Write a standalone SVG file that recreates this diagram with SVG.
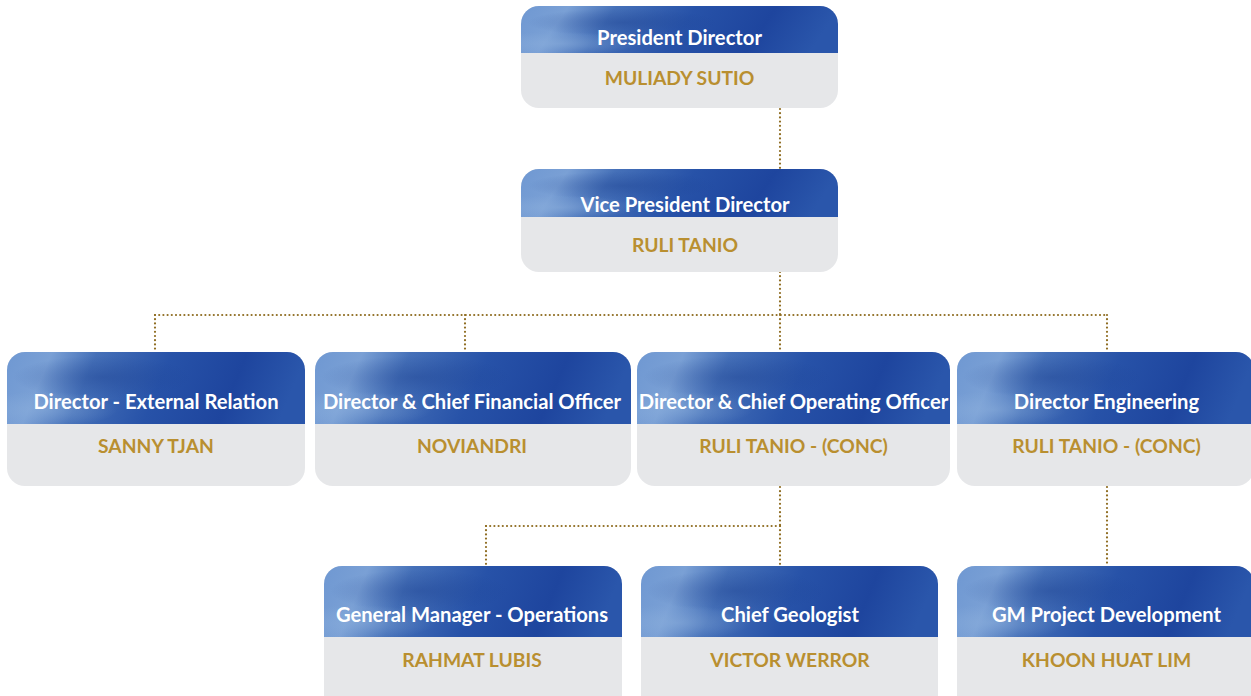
<svg xmlns="http://www.w3.org/2000/svg" width="1251" height="696" viewBox="0 0 1251 696">
<defs>
<linearGradient id="hg" x1="0" y1="0" x2="1" y2="0.1">
<stop offset="0" stop-color="#6f98d2"/>
<stop offset="0.15" stop-color="#7aa0d5"/>
<stop offset="0.3" stop-color="#4570b8"/>
<stop offset="0.55" stop-color="#2752a8"/>
<stop offset="0.8" stop-color="#1e459e"/>
<stop offset="1" stop-color="#2a56ab"/>
</linearGradient>
<radialGradient id="blob" cx="0.32" cy="0.35" r="0.3">
<stop offset="0" stop-color="#1b3f8f" stop-opacity="0.4"/>
<stop offset="1" stop-color="#1b3f8f" stop-opacity="0"/>
</radialGradient>
<radialGradient id="light" cx="0.12" cy="0.8" r="0.25">
<stop offset="0" stop-color="#8fb2de" stop-opacity="0.5"/>
<stop offset="1" stop-color="#8fb2de" stop-opacity="0"/>
</radialGradient>
</defs>
<style>
.body{fill:#e6e7e9}
.hdr{fill:url(#hg)}
.blob{fill:url(#blob)}
.lt{fill:url(#light)}
.t{font-family:Lato,"Open Sans","Liberation Sans",sans-serif;font-weight:700;font-size:20.2px;fill:#ffffff;text-anchor:middle}
.n{font-family:Lato,"Open Sans","Liberation Sans",sans-serif;font-weight:700;font-size:19.3px;fill:#b98f30;text-anchor:middle}
.c{fill:none;stroke:#8f6d22;stroke-width:2.2;stroke-dasharray:0 4.2;stroke-linecap:round}
</style>
<g id="connectors">
<path class="c" d="M780,109 V169"/>
<path class="c" d="M780,272 V315"/>
<path class="c" d="M155,315 H1107"/>
<path class="c" d="M155,315 V352"/>
<path class="c" d="M465,315 V352"/>
<path class="c" d="M780,315 V352"/>
<path class="c" d="M1107,315 V352"/>
<path class="c" d="M780,487 V526"/>
<path class="c" d="M486,526 H780"/>
<path class="c" d="M486,526 V566"/>
<path class="c" d="M780,526 V566"/>
<path class="c" d="M1107,487 V566"/>
</g>
<g id="n-president">
<rect class="body" x="521" y="6" width="317" height="102" rx="18"/>
<path class="hdr" d="M521,53 V24 A18,18 0 0 1 539,6 H820 A18,18 0 0 1 838,24 V53 Z"/>
<path class="blob" d="M521,53 V24 A18,18 0 0 1 539,6 H820 A18,18 0 0 1 838,24 V53 Z"/>
<path class="lt" d="M521,53 V24 A18,18 0 0 1 539,6 H820 A18,18 0 0 1 838,24 V53 Z"/>
<text class="t" x="679.5" y="45">President Director</text>
<text class="n" x="679.5" y="85">MULIADY SUTIO</text>
</g>
<g id="n-vp">
<rect class="body" x="521" y="169" width="317" height="103" rx="18"/>
<path class="hdr" d="M521,217 V187 A18,18 0 0 1 539,169 H820 A18,18 0 0 1 838,187 V217 Z"/>
<path class="blob" d="M521,217 V187 A18,18 0 0 1 539,169 H820 A18,18 0 0 1 838,187 V217 Z"/>
<path class="lt" d="M521,217 V187 A18,18 0 0 1 539,169 H820 A18,18 0 0 1 838,187 V217 Z"/>
<text class="t" x="685" y="212">Vice President Director</text>
<text class="n" x="685" y="252">RULI TANIO</text>
</g>
<g id="n-ext">
<rect class="body" x="7" y="352" width="298" height="134" rx="18"/>
<path class="hdr" d="M7,424 V370 A18,18 0 0 1 25,352 H287 A18,18 0 0 1 305,370 V424 Z"/>
<path class="blob" d="M7,424 V370 A18,18 0 0 1 25,352 H287 A18,18 0 0 1 305,370 V424 Z"/>
<path class="lt" d="M7,424 V370 A18,18 0 0 1 25,352 H287 A18,18 0 0 1 305,370 V424 Z"/>
<text class="t" x="156" y="409">Director - External Relation</text>
<text class="n" x="156" y="453">SANNY TJAN</text>
</g>
<g id="n-cfo">
<rect class="body" x="315" y="352" width="316" height="134" rx="18"/>
<path class="hdr" d="M315,424 V370 A18,18 0 0 1 333,352 H613 A18,18 0 0 1 631,370 V424 Z"/>
<path class="blob" d="M315,424 V370 A18,18 0 0 1 333,352 H613 A18,18 0 0 1 631,370 V424 Z"/>
<path class="lt" d="M315,424 V370 A18,18 0 0 1 333,352 H613 A18,18 0 0 1 631,370 V424 Z"/>
<text class="t" x="472" y="409">Director &amp; Chief Financial Officer</text>
<text class="n" x="472" y="453">NOVIANDRI</text>
</g>
<g id="n-coo">
<rect class="body" x="637" y="352" width="313" height="134" rx="18"/>
<path class="hdr" d="M637,424 V370 A18,18 0 0 1 655,352 H932 A18,18 0 0 1 950,370 V424 Z"/>
<path class="blob" d="M637,424 V370 A18,18 0 0 1 655,352 H932 A18,18 0 0 1 950,370 V424 Z"/>
<path class="lt" d="M637,424 V370 A18,18 0 0 1 655,352 H932 A18,18 0 0 1 950,370 V424 Z"/>
<text class="t" x="793.5" y="409">Director &amp; Chief Operating Officer</text>
<text class="n" x="793.5" y="453">RULI TANIO - (CONC)</text>
</g>
<g id="n-eng">
<rect class="body" x="957" y="352" width="297" height="134" rx="18"/>
<path class="hdr" d="M957,424 V370 A18,18 0 0 1 975,352 H1236 A18,18 0 0 1 1254,370 V424 Z"/>
<path class="blob" d="M957,424 V370 A18,18 0 0 1 975,352 H1236 A18,18 0 0 1 1254,370 V424 Z"/>
<path class="lt" d="M957,424 V370 A18,18 0 0 1 975,352 H1236 A18,18 0 0 1 1254,370 V424 Z"/>
<text class="t" x="1106.5" y="409">Director Engineering</text>
<text class="n" x="1106.5" y="453">RULI TANIO - (CONC)</text>
</g>
<g id="n-gmops">
<rect class="body" x="324" y="566" width="298" height="150" rx="18"/>
<path class="hdr" d="M324,637 V584 A18,18 0 0 1 342,566 H604 A18,18 0 0 1 622,584 V637 Z"/>
<path class="blob" d="M324,637 V584 A18,18 0 0 1 342,566 H604 A18,18 0 0 1 622,584 V637 Z"/>
<path class="lt" d="M324,637 V584 A18,18 0 0 1 342,566 H604 A18,18 0 0 1 622,584 V637 Z"/>
<text class="t" x="472" y="622">General Manager - Operations</text>
<text class="n" x="472" y="667">RAHMAT LUBIS</text>
</g>
<g id="n-geo">
<rect class="body" x="641" y="566" width="297" height="150" rx="18"/>
<path class="hdr" d="M641,637 V584 A18,18 0 0 1 659,566 H920 A18,18 0 0 1 938,584 V637 Z"/>
<path class="blob" d="M641,637 V584 A18,18 0 0 1 659,566 H920 A18,18 0 0 1 938,584 V637 Z"/>
<path class="lt" d="M641,637 V584 A18,18 0 0 1 659,566 H920 A18,18 0 0 1 938,584 V637 Z"/>
<text class="t" x="790" y="622">Chief Geologist</text>
<text class="n" x="790" y="667">VICTOR WERROR</text>
</g>
<g id="n-gmpd">
<rect class="body" x="957" y="566" width="297" height="150" rx="18"/>
<path class="hdr" d="M957,637 V584 A18,18 0 0 1 975,566 H1236 A18,18 0 0 1 1254,584 V637 Z"/>
<path class="blob" d="M957,637 V584 A18,18 0 0 1 975,566 H1236 A18,18 0 0 1 1254,584 V637 Z"/>
<path class="lt" d="M957,637 V584 A18,18 0 0 1 975,566 H1236 A18,18 0 0 1 1254,584 V637 Z"/>
<text class="t" x="1106.5" y="622">GM Project Development</text>
<text class="n" x="1106.5" y="667">KHOON HUAT LIM</text>
</g>
</svg>
